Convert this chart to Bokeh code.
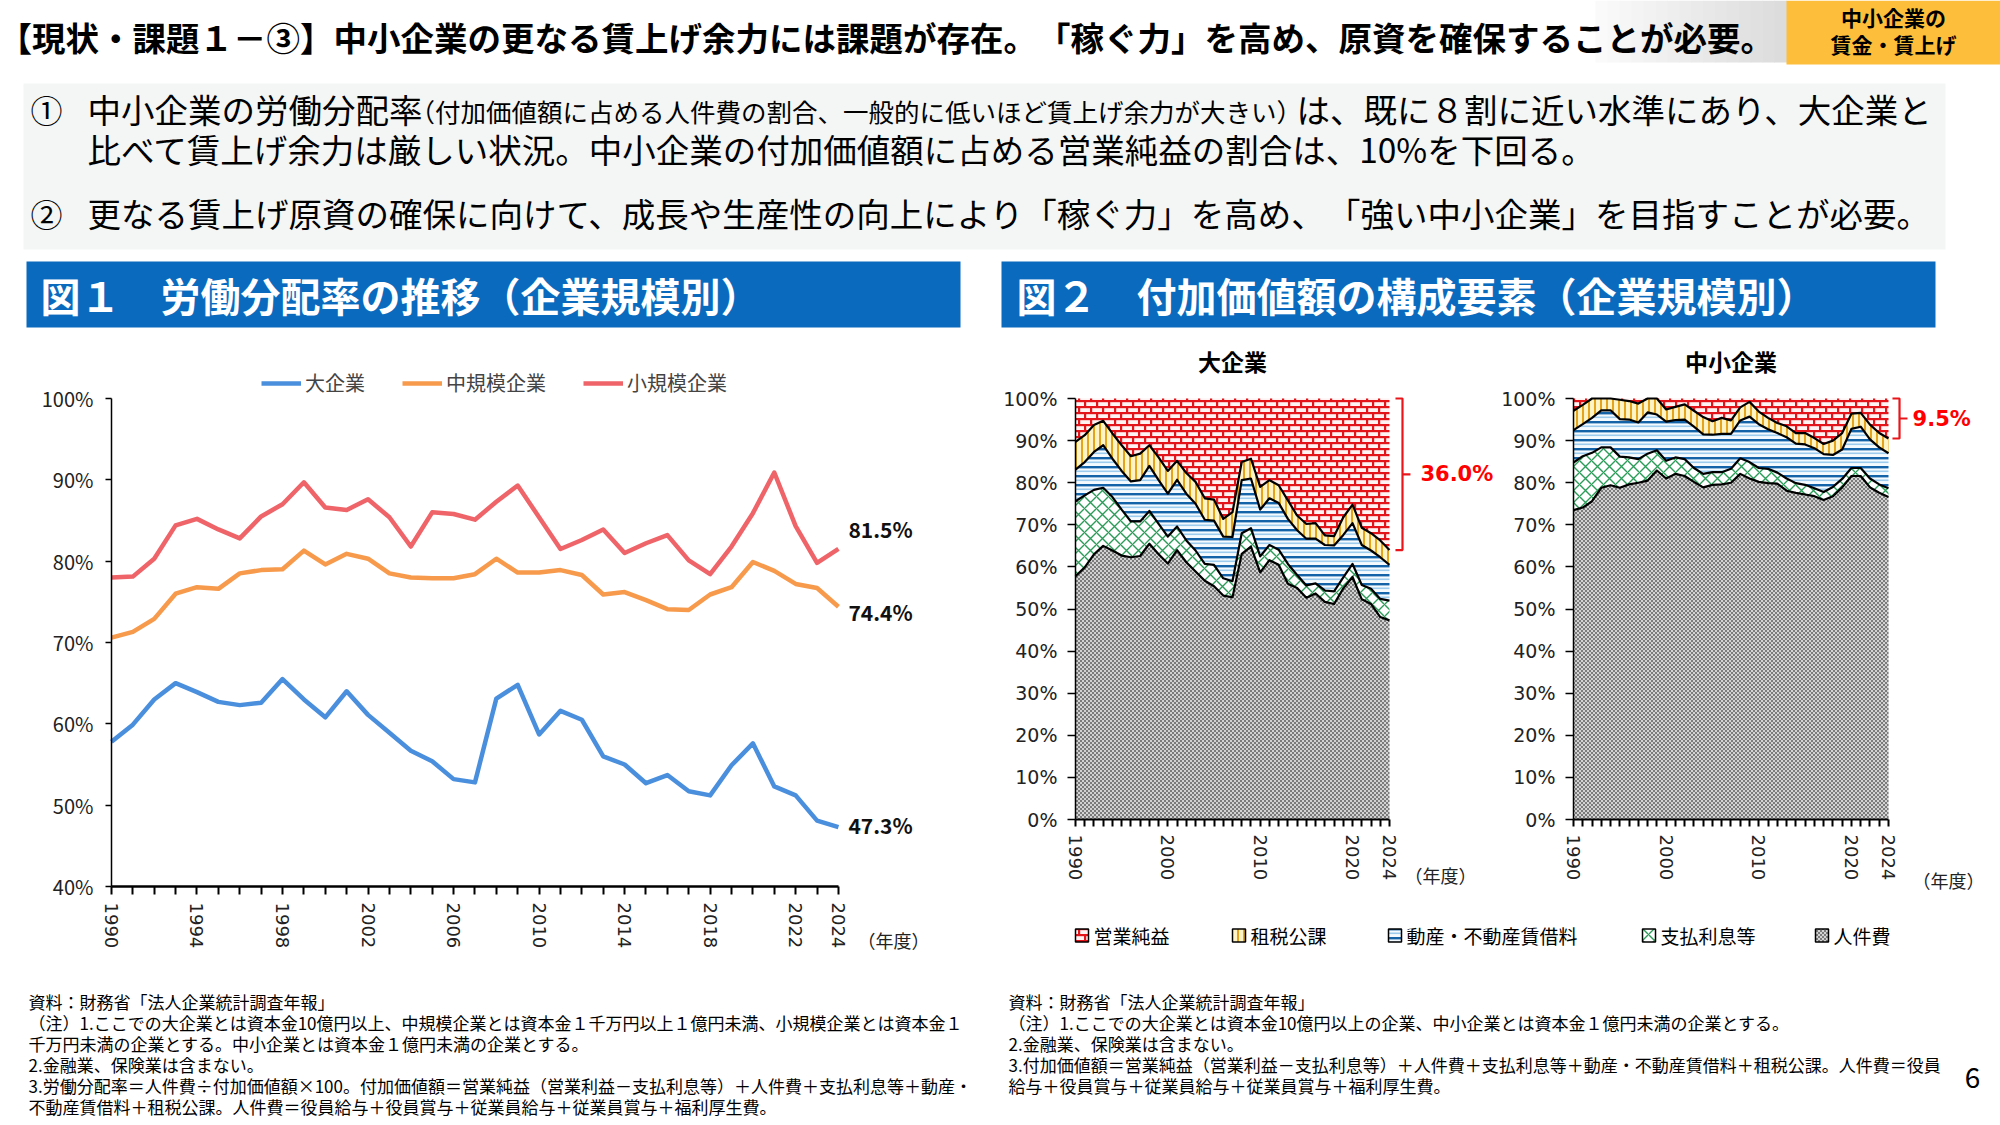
import math
from bokeh.plotting import figure
from bokeh.models import ColumnDataSource, Range1d, FixedTicker, Legend, LegendItem, CanvasTexture
from bokeh.layouts import column, row
from bokeh.transform import stack
from bokeh.core.properties import value
from bokeh.embed import file_html
from bokeh.resources import INLINE

JP = "Noto Sans CJK JP"
LAT = "DejaVu Sans"

years = list(range(1990, 2025))

# ---- 図１: 労働分配率（%）----
fig1_names = ["大企業", "中規模企業", "小規模企業"]
share_large = [57.8, 59.9, 63.0, 65.0, 63.9, 62.7, 62.3, 62.6, 65.5, 63.0, 60.8, 64.0,
               61.1, 58.9, 56.7, 55.4, 53.2, 52.8, 63.1, 64.8, 58.7, 61.6, 60.5, 56.0,
               55.0, 52.7, 53.7, 51.7, 51.2, 54.9, 57.6, 52.3, 51.2, 48.1, 47.3]
share_medium = [70.6, 71.3, 72.9, 76.0, 76.8, 76.6, 78.5, 78.9, 79.0, 81.3, 79.6, 80.9,
                80.3, 78.5, 78.0, 77.9, 77.9, 78.4, 80.3, 78.6, 78.6, 78.9, 78.3, 75.9,
                76.2, 75.2, 74.1, 74.0, 75.9, 76.8, 79.9, 78.8, 77.2, 76.7, 74.4]
share_small = [78.0, 78.1, 80.3, 84.4, 85.2, 83.9, 82.8, 85.5, 87.0, 89.7, 86.6, 86.3,
               87.6, 85.4, 81.8, 86.0, 85.8, 85.1, 87.3, 89.3, 85.4, 81.5, 82.6, 83.9,
               81.0, 82.2, 83.2, 80.1, 78.4, 81.8, 85.9, 90.9, 84.3, 79.8, 81.5]
fig1_label_years = [1990, 1994, 1998, 2002, 2006, 2010, 2014, 2018, 2022, 2024]
fig1_yticks = [40, 50, 60, 70, 80, 90, 100]

# ---- 図２: 付加価値額の構成比（%）----
comp_keys = ["labor", "interest", "rent", "tax", "profit"]
comp_names = {"profit": "営業純益", "tax": "租税公課", "rent": "動産・不動産賃借料",
              "interest": "支払利息等", "labor": "人件費"}
legend_order = ["profit", "tax", "rent", "interest", "labor"]

large_labor = share_large
large_interest = [17.8, 17.1, 15.3, 13.8, 12.7, 10.9, 8.5, 8.2, 7.8, 7.2, 6.4, 5.6,
                  5.2, 5.0, 4.0, 5.1, 4.1, 3.8, 4.9, 4.4, 3.8, 3.6, 3.6, 4.7,
                  3.1, 2.9, 2.4, 2.7, 3.0, 2.6, 3.1, 3.4, 3.6, 4.3, 4.7]
large_rent = [7.5, 7.9, 9.0, 10.1, 9.1, 9.2, 9.5, 9.8, 10.7, 10.4, 10.2, 11.1,
              11.1, 11.1, 10.5, 10.5, 9.9, 10.5, 12.6, 11.8, 11.1, 11.1, 11.1, 10.7,
              10.6, 11.1, 10.6, 10.8, 10.9, 10.1, 9.7, 9.5, 9.1, 9.9, 8.5]
large_tax = [6.6, 6.4, 6.4, 5.8, 6.0, 6.1, 6.0, 6.3, 4.9, 5.4, 5.4, 4.5,
             4.9, 5.2, 5.1, 5.0, 4.2, 5.9, 4.3, 4.7, 5.4, 4.3, 4.2, 4.4,
             3.5, 3.5, 3.7, 2.3, 2.2, 4.2, 4.4, 4.1, 4.1, 4.0, 3.5]
large_profit = [10.3, 8.7, 6.3, 5.3, 8.3, 11.1, 13.7, 13.1, 11.1, 14.0, 17.2, 14.8,
                17.7, 19.8, 23.7, 24.0, 28.6, 27.0, 15.1, 14.3, 21.0, 19.4, 20.6, 24.2,
                27.8, 29.8, 29.6, 32.5, 32.7, 28.2, 25.2, 30.7, 32.0, 33.7, 36.0]

sme_labor = [73.5, 74.1, 75.6, 78.8, 79.4, 78.8, 79.6, 80.0, 80.5, 82.9, 81.0, 82.1,
             81.6, 80.2, 78.9, 79.5, 79.6, 80.0, 82.1, 81.0, 80.2, 79.9, 79.8, 78.1,
             77.6, 77.2, 76.8, 75.9, 76.8, 78.9, 81.6, 81.6, 78.9, 77.6, 76.6]
sme_interest = [11.3, 12.2, 11.5, 9.6, 9.0, 7.4, 6.4, 5.6, 6.4, 4.8, 4.2, 3.9,
                4.0, 3.3, 3.2, 3.0, 2.9, 3.3, 3.7, 3.9, 3.3, 3.4, 2.6, 2.9,
                2.3, 2.3, 1.9, 1.9, 2.2, 2.0, 1.9, 1.9, 2.1, 2.0, 2.1]
sme_rent = [7.7, 7.6, 8.3, 8.8, 8.8, 8.9, 9.0, 8.7, 9.8, 8.5, 9.3, 8.9,
            9.4, 9.8, 9.4, 8.9, 9.1, 8.3, 9.0, 10.8, 10.4, 9.4, 9.4, 9.8,
            9.4, 9.6, 9.5, 9.0, 7.6, 7.0, 9.3, 9.8, 9.3, 8.8, 8.3]
sme_tax = [4.6, 4.6, 4.6, 2.8, 2.8, 4.6, 4.4, 4.5, 3.3, 3.8, 2.9, 3.1,
           3.6, 3.8, 4.1, 3.2, 3.8, 3.2, 3.1, 3.5, 3.0, 2.7, 2.4, 2.6,
           2.5, 2.7, 2.4, 2.4, 3.4, 3.9, 3.6, 3.3, 3.5, 3.4, 3.5]
sme_profit = [2.9, 1.5, 0.0, 0.0, 0.0, 0.3, 0.6, 1.2, 0.0, 0.0, 2.6, 2.0,
              1.4, 2.9, 4.4, 5.4, 4.6, 5.2, 2.1, 0.8, 3.1, 4.6, 5.8, 6.6,
              8.2, 8.2, 9.4, 10.8, 10.0, 8.2, 3.6, 3.4, 6.2, 8.2, 9.5]
fig2_label_years = [1990, 2000, 2010, 2020, 2024]
fig2_yticks = [0, 10, 20, 30, 40, 50, 60, 70, 80, 90, 100]

# ---- texts ----
page_title = "【現状・課題１－③】中小企業の更なる賃上げ余力には課題が存在。「稼ぐ力」を高め、原資を確保することが必要。"
tag_lines = ["中小企業の", "賃金・賃上げ"]
point1_a = "中小企業の労働分配率"
point1_note = "（付加価値額に占める人件費の割合、一般的に低いほど賃上げ余力が大きい）"
point1_b = "は、既に８割に近い水準にあり、大企業と"
point1_c = "比べて賃上げ余力は厳しい状況。中小企業の付加価値額に占める営業純益の割合は、10%を下回る。"
point2 = "更なる賃上げ原資の確保に向けて、成長や生産性の向上により「稼ぐ力」を高め、「強い中小企業」を目指すことが必要。"
fig1_heading = "図１　労働分配率の推移（企業規模別）"
fig2_heading = "図２　付加価値額の構成要素（企業規模別）"
year_unit = "（年度）"
notes_left = [
    "資料：財務省「法人企業統計調査年報」",
    "（注）1.ここでの大企業とは資本金10億円以上、中規模企業とは資本金１千万円以上１億円未満、小規模企業とは資本金１",
    "千万円未満の企業とする。中小企業とは資本金１億円未満の企業とする。",
    "2.金融業、保険業は含まない。",
    "3.労働分配率＝人件費÷付加価値額×100。付加価値額＝営業純益（営業利益－支払利息等）＋人件費＋支払利息等＋動産・",
    "不動産賃借料＋租税公課。人件費＝役員給与＋役員賞与＋従業員給与＋従業員賞与＋福利厚生費。",
]
notes_right = [
    "資料：財務省「法人企業統計調査年報」",
    "（注）1.ここでの大企業とは資本金10億円以上の企業、中小企業とは資本金１億円未満の企業とする。",
    "2.金融業、保険業は含まない。",
    "3.付加価値額＝営業純益（営業利益－支払利息等）＋人件費＋支払利息等＋動産・不動産賃借料＋租税公課。人件費＝役員",
    "給与＋役員賞与＋従業員給与＋従業員賞与＋福利厚生費。",
]
page_no = "6"

BLUE_BAR = "#0A6BBE"
LINE_COLORS = ["#4A8FDD", "#F79A4B", "#EF6468"]
BRACKET_RED = "#E8161B"

# ---- fill textures (tile size is set explicitly inside each tile painter) ----
brick_tex = CanvasTexture(code="""
const s = 12, h = 6, w = 2.2;
ctx.canvas.width = s; ctx.canvas.height = s;
ctx.setTransform(1, 0, 0, 1, 0, 0);
ctx.clearRect(0, 0, s, s);
ctx.fillStyle = '#e3151b';
ctx.fillRect(0, 0, s, w);
ctx.fillRect(0, h, s, w);
ctx.fillRect(0, 0, w, h);
ctx.fillRect(h, h, w, h);
""")
checker_tex = CanvasTexture(code="""
const s = 4, c = 2;
ctx.canvas.width = s; ctx.canvas.height = s;
ctx.setTransform(1, 0, 0, 1, 0, 0);
ctx.clearRect(0, 0, s, s);
ctx.fillStyle = '#7b7b7b';
ctx.fillRect(0, 0, c, c);
ctx.fillRect(c, c, c, c);
""")
stripe_tex = CanvasTexture(code="""
const s = 9;
ctx.canvas.width = s; ctx.canvas.height = s;
ctx.setTransform(1, 0, 0, 1, 0, 0);
ctx.clearRect(0, 0, s, s);
ctx.fillStyle = '#1462a8';
ctx.fillRect(0, 0, s, 2.4);
ctx.fillStyle = '#9ccbee';
ctx.fillRect(0, 4.5, s, 1.6);
""")

LAYER_STYLE = {
    "labor": dict(fill_color="#d2d2d2", hatch_pattern=value("checker"),
                  hatch_extra={"checker": checker_tex}, hatch_scale=4),
    "interest": dict(fill_color="#ffffff", hatch_pattern="diagonal_cross",
                     hatch_color="#2b9b58", hatch_scale=12, hatch_weight=1.4),
    "rent": dict(fill_color="#f4fafe", hatch_pattern=value("stripe"),
                 hatch_extra={"stripe": stripe_tex}, hatch_scale=9),
    "tax": dict(fill_color="#fff4c6", hatch_pattern="vertical_line",
                hatch_color="#e4a51c", hatch_scale=6, hatch_weight=2),
    "profit": dict(fill_color="#fff2f2", hatch_pattern=value("brick"),
                   hatch_extra={"brick": brick_tex}, hatch_scale=12),
}

CLOSERS = "、。」）】"
OPENERS = "「（【"


def canvas(w, h, x0, y0):
    """A plain drawing surface whose units are page pixels (y grows downward)."""
    p = figure(width=w, height=h, x_range=Range1d(x0, x0 + w), y_range=Range1d(y0 + h, y0),
               output_backend="svg", toolbar_location=None, min_border=0,
               x_axis_location=None, y_axis_location=None)
    p.grid.visible = False
    p.outline_line_color = None
    p.background_fill_color = "white"
    p.border_fill_color = "white"
    return p


def jp_text(p, x, y, txt, size, color="black", bold=False, align="left"):
    p.text(x=[x], y=[y], text=[txt], text_font=value(JP), text_font_size=f"{size}px",
           text_font_style="bold" if bold else "normal", text_color=color,
           text_baseline="middle", text_align=align)


def jp_runs(p, x, y, txt, size, color="black", bold=False):
    """Left-aligned text split where two punctuation marks meet, so each keeps a full em."""
    runs, cur = [], ""
    for i, ch in enumerate(txt):
        cur += ch
        if ch in CLOSERS and i + 1 < len(txt) and txt[i + 1] in OPENERS:
            runs.append(cur)
            cur = ""
    runs.append(cur)
    for r in runs:
        jp_text(p, x, y, r, size, color=color, bold=bold)
        x += sum(0.55 if ord(c) < 128 else 1.0 for c in r) * size


def style_axes(p, xlabels, yticks, ybounds, xfont, yfont, yfontsize, ytick_out, ystandoff,
               xtick_out, xaxis_w):
    p.xaxis.ticker = FixedTicker(ticks=years)
    p.xaxis.major_label_overrides = {y: (str(y) if y in xlabels else "") for y in years}
    p.xaxis.bounds = (1990, 2024)
    p.xaxis.major_label_orientation = -math.pi / 2
    p.xaxis.major_tick_out = xtick_out
    p.xaxis.major_tick_in = 0
    p.xaxis.major_tick_line_width = 2
    p.xaxis.axis_line_width = xaxis_w
    p.xaxis.major_label_standoff = 8
    p.xaxis.major_label_text_font = xfont
    p.xaxis.major_label_text_font_size = "18px"
    p.xaxis.major_label_text_color = "#222222"

    p.yaxis.fixed_location = 1990
    p.yaxis.ticker = FixedTicker(ticks=yticks)
    p.yaxis.major_label_overrides = {v: f"{v}%" for v in yticks}
    p.yaxis.bounds = ybounds
    p.yaxis.major_tick_out = ytick_out
    p.yaxis.major_tick_in = 0
    p.yaxis.major_tick_line_width = 1.5
    p.yaxis.axis_line_width = 1.5
    p.yaxis.major_label_standoff = ystandoff
    p.yaxis.major_label_text_font = yfont
    p.yaxis.major_label_text_font_size = yfontsize
    p.yaxis.major_label_text_color = "#222222"


# ================= header =================
head = canvas(2000, 340, 0, 0)
n_strips = 16
for i in range(n_strips):
    g = int(250 - 30 * i / (n_strips - 1))
    head.quad(left=[1595 + i * 191 / n_strips], right=[1595 + (i + 1) * 191 / n_strips + 0.5],
              top=[0], bottom=[62], fill_color=f"#{g:02x}{g:02x}{g:02x}", line_color=None)
head.quad(left=[1786], right=[2000], top=[0], bottom=[64], fill_color="#FDBE3C", line_color=None)
jp_runs(head, -2, 36, page_title, 33.5, bold=True)
jp_text(head, 1893, 16, tag_lines[0], 21, bold=True, align="center")
jp_text(head, 1893, 43, tag_lines[1], 21, bold=True, align="center")

head.quad(left=[23], right=[1945], top=[83], bottom=[249], fill_color="#F4F6F6", line_color=None)
jp_text(head, 30, 108, "①", 32)
jp_text(head, 87, 108, point1_a, 33.5)
jp_text(head, 409, 110, point1_note, 25.5)
jp_text(head, 1296, 108, point1_b, 33.5)
jp_text(head, 87, 148, point1_c, 33.5)
jp_text(head, 30, 212, "②", 32)
jp_runs(head, 87, 212, point2, 33.5)

head.quad(left=[26], right=[960], top=[261], bottom=[327], fill_color=BLUE_BAR, line_color=None)
head.quad(left=[1001], right=[1935], top=[261], bottom=[327], fill_color=BLUE_BAR, line_color=None)
jp_text(head, 40, 294, fig1_heading, 40, color="white", bold=True)
jp_text(head, 1016, 294, fig2_heading, 40, color="white", bold=True)

# ================= 図１ =================
# the frame fills the whole figure; both axes are pinned inside it
f1 = figure(width=1000, height=620, x_range=Range1d(1984.81, 2031.58),
            y_range=Range1d(30.90, 107.13), output_backend="svg", toolbar_location=None,
            min_border=0)
f1.grid.visible = False
f1.outline_line_color = None

renderers = []
for ser, col in zip([share_large, share_medium, share_small], LINE_COLORS):
    renderers.append(f1.line(years, ser, line_color=col, line_width=4.5, line_join="round"))

legend1 = Legend(items=[LegendItem(label=n, renderers=[r]) for n, r in zip(fig1_names, renderers)],
                 location=(261, 563), orientation="horizontal", padding=0, margin=0, spacing=37,
                 label_standoff=4, glyph_width=40, glyph_height=20,
                 label_text_font=JP, label_text_font_size="20px",
                 border_line_color=None, background_fill_alpha=0)
f1.add_layout(legend1)

f1.xaxis.fixed_location = 40
style_axes(f1, fig1_label_years, fig1_yticks, (40, 100), LAT, JP, "20px", 6, 12, 8, 2.5)

for ser, dy in [(share_small, 2.4), (share_medium, -0.7), (share_large, 0.3)]:
    f1.text(x=[years[-1] + 0.47], y=[ser[-1] + dy], text=[f"{ser[-1]:.1f}%"],
            text_font=value(JP), text_font_size="21px", text_font_style="bold",
            text_baseline="middle", text_align="left", text_color="#111111")
f1.text(x=[2024.89], y=[33.36], text=[year_unit], text_font=value(JP), text_font_size="18px",
        text_baseline="middle", text_align="left", text_color="#222222")


# ================= 図２ =================
def stack_panel(width, xmin, xmax, parts, title, bracket_x, unit_x, nendo_x, nendo_y):
    src = ColumnDataSource(dict(year=years, **parts))
    p = figure(width=width, height=570, x_range=Range1d(xmin, xmax),
               y_range=Range1d(-21.61, 113.78), output_backend="svg", toolbar_location=None,
               min_border=0)
    p.grid.visible = False
    p.outline_line_color = None

    for i, k in enumerate(comp_keys):
        y1 = 0 if i == 0 else stack(*comp_keys[:i])
        p.varea(x="year", y1=y1, y2=stack(*comp_keys[:i + 1]), source=src, **LAYER_STYLE[k])
    for i in range(len(comp_keys) - 1):
        p.line(x="year", y=stack(*comp_keys[:i + 1]), source=src, line_color="black",
               line_width=2.2, line_join="round")

    p.xaxis.fixed_location = 0
    style_axes(p, fig2_label_years, fig2_yticks, (0, 100), LAT, LAT, "19px", 8, 10, 7, 2)

    p.text(x=[2007], y=[109], text=[title], text_font=value(JP), text_font_size="23px",
           text_font_style="bold", text_baseline="middle", text_align="center")

    # bracket spanning the latest 営業純益 share
    last = parts["profit"][-1]
    top, bot = 100.0, 100.0 - last
    mid = (top + bot) / 2
    xin, xv, xout = bracket_x
    p.multi_line(xs=[[xin, xv, xv, xin], [xv, xout]], ys=[[top, top, bot, bot], [mid, mid]],
                 line_color=BRACKET_RED, line_width=2.2)
    p.text(x=[unit_x], y=[mid], text=[f"{last:.1f}%"], text_font=value(LAT),
           text_font_size="21px", text_font_style="bold", text_color="#FF0000",
           text_baseline="middle", text_align="left")
    p.text(x=[nendo_x], y=[nendo_y], text=[year_unit], text_font=value(JP), text_font_size="18px",
           text_baseline="middle", text_align="left", text_color="#222222")
    return p


f2l = stack_panel(495, 1981.88, 2035.48,
                  dict(labor=large_labor, interest=large_interest, rent=large_rent,
                       tax=large_tax, profit=large_profit),
                  "大企業", (2024.65, 2025.41, 2026.27), 2027.35, 2025.63, -13.06)
f2r = stack_panel(505, 1981.58, 2036.09,
                  dict(labor=sme_labor, interest=sme_interest, rent=sme_rent,
                       tax=sme_tax, profit=sme_profit),
                  "中小企業", (2024.43, 2025.19, 2026.05), 2026.6, 2026.6, -14.25)

# legend strip under 図２
leg2 = canvas(1000, 50, 1000, 910)
swatch_x = {"profit": 1075, "tax": 1232, "rent": 1388, "interest": 1642, "labor": 1815}
for k in legend_order:
    x0 = swatch_x[k]
    leg2.quad(left=[x0], right=[x0 + 13], top=[928.5], bottom=[941.5], line_color="black",
              line_width=1.5, **LAYER_STYLE[k])
    jp_text(leg2, x0 + 18, 935, comp_names[k], 19)

# ================= footer =================
foot = canvas(2000, 165, 0, 960)
for i, t in enumerate(notes_left):
    jp_text(foot, 28, 1001 + 21 * i, t, 17)
for i, t in enumerate(notes_right):
    jp_text(foot, 1008, 1001 + 21 * i, t, 17)
foot.text(x=[1972], y=[1077], text=[page_no], text_font=value(JP), text_font_size="28px",
          text_baseline="middle", text_align="center")

page = column(head, row(f1, column(row(f2l, f2r), leg2)), foot)

with open("out.html", "w") as fh:
    fh.write(file_html(page, INLINE))
